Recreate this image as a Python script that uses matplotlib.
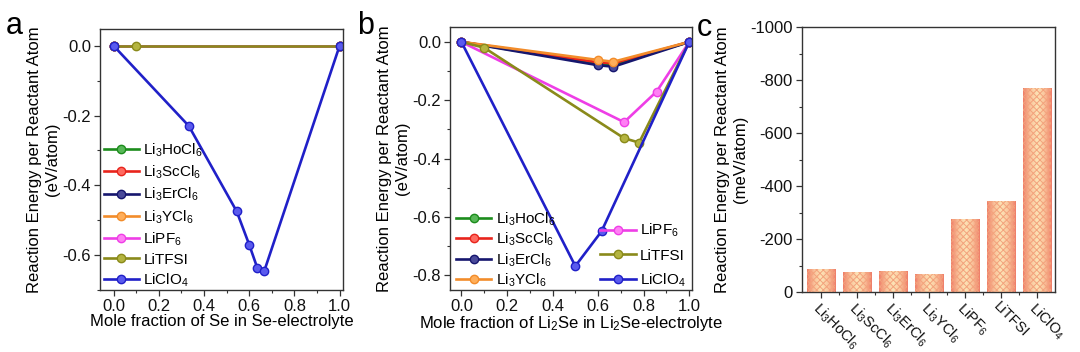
import numpy as np
import matplotlib
matplotlib.use("Agg")
import matplotlib.pyplot as plt
from matplotlib.colors import LinearSegmentedColormap
from matplotlib.ticker import MultipleLocator, FixedLocator

plt.rcParams['font.family'] = ['Liberation Sans', 'DejaVu Sans']
plt.rcParams['mathtext.default'] = 'regular'
plt.rcParams['axes.unicode_minus'] = False
plt.rcParams['hatch.linewidth'] = 0.7

# series names and colours
names = [r'Li$_3$HoCl$_6$', r'Li$_3$ScCl$_6$', r'Li$_3$ErCl$_6$', r'Li$_3$YCl$_6$',
         r'LiPF$_6$', 'LiTFSI', r'LiClO$_4$']
colors = ['#1c8c1c', '#e8241c', '#16166e', '#f28c2a', '#ee3ee6', '#8a8a1a', '#2020c8']
light = ['#58b858', '#ff6a60', '#4a4a9a', '#ffae5a', '#ff80f4', '#b4b440', '#5a5aee']

# panel a: Se + electrolyte
a_x = [
    [0, 1], [0, 1], [0, 1], [0, 1], [0, 1],
    [0, 0.1, 1],
    [0, 0.333, 0.545, 0.6, 0.636, 0.667, 1],
]
a_y = [
    [0, 0], [0, 0], [0, 0], [0, 0], [0, 0],
    [0, 0, 0],
    [0, -0.23, -0.475, -0.57, -0.637, -0.645, 0],
]

# panel b: Li2Se + electrolyte
b_x = [
    [0, 0.6, 0.667, 1], [0, 0.6, 0.667, 1], [0, 0.6, 0.667, 1], [0, 0.6, 0.667, 1],
    [0, 0.714, 0.857, 1],
    [0, 0.1, 0.714, 0.78, 1],
    [0, 0.5, 0.615, 1],
]
b_y = [
    [0, -0.075, -0.078, 0], [0, -0.07, -0.073, 0], [0, -0.08, -0.085, 0], [0, -0.062, -0.068, 0],
    [0, -0.275, -0.17, 0],
    [0, -0.02, -0.33, -0.345, 0],
    [0, -0.768, -0.649, 0],
]

# panel c: max reaction energy (meV/atom)
c_vals = [-85, -76, -81, -69, -275, -344, -768]

fig = plt.figure(figsize=(10.8, 3.52), dpi=100)
W, H = 1080, 352
FS = 12


def box(l, t, r, b):
    return [l / W, 1 - b / H, (r - l) / W, (b - t) / H]


def style(ax):
    for s in ax.spines.values():
        s.set_color('#333333')
        s.set_linewidth(1.0)
    ax.tick_params(which='major', direction='out', length=4.5, width=0.9, labelsize=FS,
                   colors='#333333', labelcolor='#111111', pad=2)
    ax.tick_params(which='minor', direction='out', length=2.5, width=0.8, colors='#333333')
    ax.tick_params(top=False, right=False, which='both')


def draw_lines(ax, xs, ys):
    hs = []
    for x, y, c, lc, n in zip(xs, ys, colors, light, names):
        h, = ax.plot(x, y, '-o', color=c, lw=1.9, ms=6, mfc=lc, mec=c, mew=1.0, label=n)
        hs.append(h)
    return hs


ylab_e = 'Reaction Energy per Reactant Atom\n(eV/atom)'

# ---- a
ax1 = fig.add_axes(box(100, 29, 343, 290))
h1 = draw_lines(ax1, a_x, a_y)
ax1.set_xlim(-0.06, 1.015)
ax1.set_ylim(-0.7, 0.048)
ax1.xaxis.set_major_locator(MultipleLocator(0.2))
ax1.xaxis.set_minor_locator(MultipleLocator(0.1))
ax1.yaxis.set_major_locator(FixedLocator([0, -0.2, -0.4, -0.6]))
ax1.yaxis.set_minor_locator(MultipleLocator(0.1))
ax1.xaxis.set_major_formatter(plt.FormatStrFormatter('%.1f'))
ax1.yaxis.set_major_formatter(plt.FormatStrFormatter('%.1f'))
style(ax1)
ax1.set_xlabel('Mole fraction of Se in Se-electrolyte', fontsize=FS, labelpad=0)
ax1.set_ylabel(ylab_e, fontsize=FS, labelpad=2)
ax1.legend(handles=h1, loc='lower left', bbox_to_anchor=(-0.01, -0.02), frameon=False,
           fontsize=11, handlelength=2.3, handletextpad=0.3, labelspacing=0.32, borderaxespad=0)
fig.text(6 / W, 1 - 34 / H, 'a', fontsize=22)

# ---- b
ax2 = fig.add_axes(box(450, 27, 692, 290))
h2 = draw_lines(ax2, b_x, b_y)
ax2.set_xlim(-0.05, 1.012)
ax2.set_ylim(-0.85, 0.051)
ax2.xaxis.set_major_locator(MultipleLocator(0.2))
ax2.xaxis.set_minor_locator(MultipleLocator(0.1))
ax2.yaxis.set_major_locator(MultipleLocator(0.2))
ax2.yaxis.set_minor_locator(MultipleLocator(0.1))
ax2.xaxis.set_major_formatter(plt.FormatStrFormatter('%.1f'))
ax2.yaxis.set_major_formatter(plt.FormatStrFormatter('%.1f'))
style(ax2)
ax2.set_xlabel(r'Mole fraction of Li$_2$Se in Li$_2$Se-electrolyte', fontsize=FS, labelpad=0)
ax2.set_ylabel(ylab_e, fontsize=FS, labelpad=2)
leg = ax2.legend(handles=h2[:4], loc='lower left', bbox_to_anchor=(0.0, -0.02), frameon=False,
                 fontsize=11, handlelength=2.3, handletextpad=0.3, labelspacing=0.2,
                 borderaxespad=0)
ax2.add_artist(leg)
ax2.legend(handles=h2[4:], loc='lower right', bbox_to_anchor=(1.0, -0.02), frameon=False,
           fontsize=11, handlelength=2.3, handletextpad=0.3, labelspacing=0.6, borderaxespad=0)
fig.text(357 / W, 1 - 34 / H, 'b', fontsize=22)

# ---- c
ax3 = fig.add_axes(box(802, 27, 1055, 292))
xpos = np.arange(len(c_vals))
bars = ax3.bar(xpos, c_vals, width=0.78, color='none', linewidth=0, zorder=2)
cmap = LinearSegmentedColormap.from_list('bar', ['#ef7d68', '#fac49c', '#fde4b6', '#fac49c', '#ef7d68'])
grad = np.linspace(0, 1, 64).reshape(1, -1)
for p in bars.patches:
    x0, y0 = p.get_x(), p.get_y()
    im = ax3.imshow(grad, cmap=cmap, aspect='auto', zorder=1,
                    extent=[x0, x0 + p.get_width(), y0, y0 + p.get_height()])
    im.set_clip_path(p)
ax3.bar(xpos, c_vals, width=0.78, color='none', edgecolor='#f3a27c', hatch='xxxxx',
        linewidth=0, zorder=3)
ax3.set_xlim(-0.53, 6.5)
ax3.set_ylim(0, -1000)
ax3.yaxis.set_major_locator(MultipleLocator(200))
ax3.yaxis.set_minor_locator(MultipleLocator(100))
ax3.set_xticks(xpos)
ax3.xaxis.set_minor_locator(FixedLocator(xpos[:-1] + 0.5))
style(ax3)
ax3.tick_params(axis='x', which='major', pad=1)
ax3.set_xticklabels(names, rotation=-45, ha='left', va='top', rotation_mode='anchor',
                    fontsize=10.5)
ax3.set_ylabel('Reaction Energy per Reactant Atom\n(meV/atom)', fontsize=FS, labelpad=2)
fig.text(697 / W, 1 - 36 / H, 'c', fontsize=22)

fig.savefig('out.png', dpi=100)
